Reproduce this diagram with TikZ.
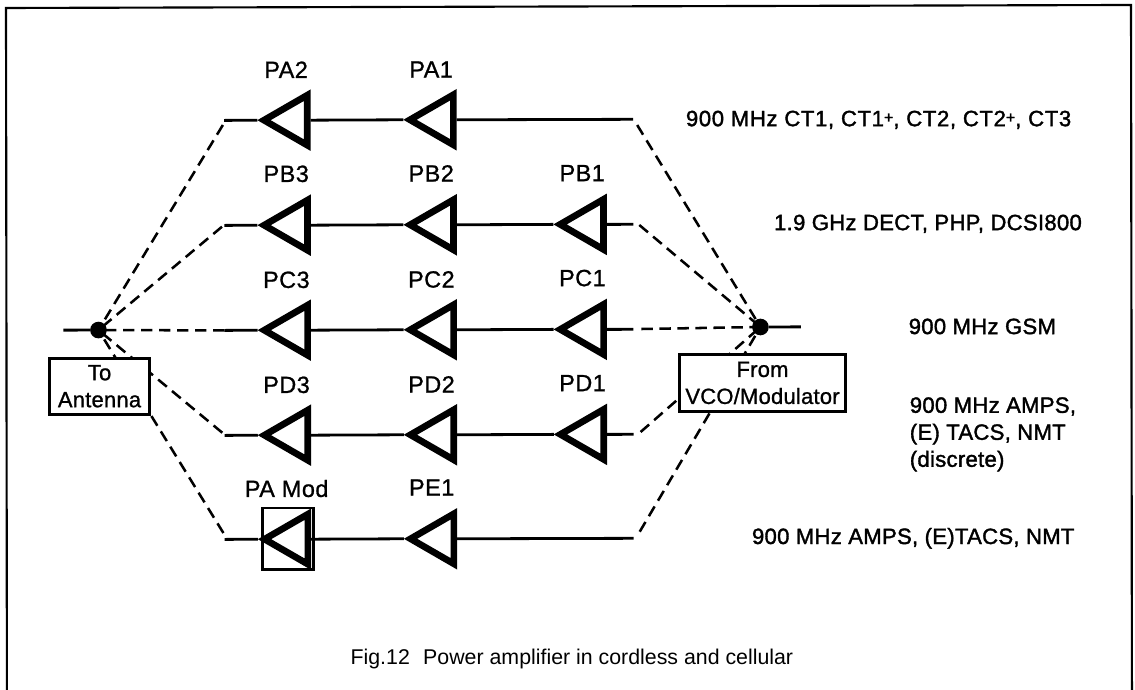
\documentclass[tikz,border=0pt]{standalone}
\usepackage{fontspec}
\setmainfont{Liberation Sans}
\newfontfamily\labfont[FakeBold=1.0,LetterSpace=2]{Liberation Sans}
\newfontfamily\notefont[FakeBold=1.6,LetterSpace=2.8]{Liberation Sans}
\newfontfamily\notebfont[FakeBold=1.6,LetterSpace=1.2]{Liberation Sans}
\newfontfamily\boxfont[FakeBold=1.0,LetterSpace=1]{Liberation Sans}
\usetikzlibrary{shapes.geometric}
\newcommand{\pls}{\raisebox{2.5pt}{\fontsize{12pt}{12pt}\selectfont +}}
\tikzset{
  wire/.style={line width=2.1pt,black},
  dashwire/.style={line width=1.9pt,black,dash pattern=on 8.5pt off 5pt},
  amp/.style={draw,isosceles triangle,shape border rotate=180,isosceles triangle apex angle=60,
     minimum height=32.5pt,inner sep=0pt,line width=5pt,line join=miter,miter limit=10,anchor=lower side},
  dotn/.style={circle,fill=black,inner sep=0pt,minimum size=12.5pt},
  boxn/.style={draw,fill=white,line width=2.1pt,inner sep=0pt,align=center,
     font=\boxfont\fontsize{16.5pt}{20.25pt}\selectfont},
  lab/.style={anchor=base,inner sep=0pt,font=\labfont\fontsize{17.6pt}{20pt}\selectfont},
  note/.style={anchor=base west,inner sep=0pt,font=\notefont\fontsize{16.6pt}{20.25pt}\selectfont},
  noteb/.style={anchor=base west,inner sep=0pt,font=\notebfont\fontsize{16.6pt}{20.25pt}\selectfont},
  captext/.style={anchor=base,inner sep=0pt,font=\fontsize{16pt}{20pt}\selectfont},
}
\begin{document}
\begin{tikzpicture}[x={(0.75pt,0.002pt)},y={(0.001pt,-0.75pt)}]
\path[use as bounding box] (0pt,0pt) rectangle (851.25pt,-516.75pt);
% frame
\coordinate (f1) at (6,705);\coordinate (f2) at (6,8);\coordinate (f3) at (1131,8);\coordinate (f4) at (1131,705);
\begin{scope}
\clip (0pt,0pt) rectangle (851.25pt,-516.75pt);
\draw[line width=1.6pt] (f1) -- (f2) -- (f3) -- (f4);
\end{scope}
% junctions
\node[dotn] (dl) at (98,330.3) {};
\node[dotn] (dr) at (760,329) {};
\coordinate (sl) at (63,330.3);\coordinate (sr) at (800.5,329);
\draw[wire] (sl) -- (dl);\draw[wire] (dr) -- (sr);
% line ends
\foreach \n/\y in {A/121,B/226,C/331,D/436,E/540}{
  \coordinate (L\n) at (224,\y);\coordinate (R\n) at (633,\y);
}
\coordinate (dLA) at (222.7,125.6);\coordinate (dLB) at (221.7,227.3);\coordinate (dLC) at (224,331);
\coordinate (dLD) at (221.7,433.3);\coordinate (dLE) at (222.7,533.6);
\coordinate (dRA) at (637,126.7);\coordinate (dRB) at (639,226.7);\coordinate (dRC) at (641,330.7);
\coordinate (dRD) at (640,433.7);\coordinate (dRE) at (639,533.4);
\foreach \n in {A,B,C,D,E}{
  \draw[dashwire] (dL\n) -- (dl.center);
  \draw[dashwire] (dR\n) -- (dr.center);
}
% boxes
\node[boxn,minimum width=75pt,minimum height=42pt] (toant) at (99,386.5) {To\\Antenna};
\node[boxn,minimum width=124.5pt,minimum height=42.5pt] (fromvco) at (762,385) {From\\VCO/Modulator};
\node[draw,line width=2pt,minimum width=38.5pt,minimum height=46pt,inner sep=0pt] (modbox) at (287.3,539.5) {};
% amplifiers
\node[amp] (pa2) at (310.5,121) {};
\node[amp] (pa1) at (456.5,121) {};
\node[amp] (pb3) at (310.5,226) {};
\node[amp] (pb2) at (456.5,226) {};
\node[amp] (pb1) at (606.5,226) {};
\node[amp] (pc3) at (310.5,331) {};
\node[amp] (pc2) at (456.5,331) {};
\node[amp] (pc1) at (606.5,331) {};
\node[amp] (pd3) at (310.5,436) {};
\node[amp] (pd2) at (456.5,436) {};
\node[amp] (pd1) at (606.5,436) {};
\node[amp] (pam) at (310.5,540) {};
\node[amp] (pe1) at (456.5,540) {};
% wires
\draw[wire] (LA) -- (pa2.apex) (pa2.lower side) -- (pa1.apex) (pa1.lower side) -- (RA);
\draw[wire] (LB) -- (pb3.apex) (pb3.lower side) -- (pb2.apex) (pb2.lower side) -- (pb1.apex) (pb1.lower side) -- (RB);
\draw[wire] (LC) -- (pc3.apex) (pc3.lower side) -- (pc2.apex) (pc2.lower side) -- (pc1.apex) (pc1.lower side) -- (RC);
\draw[wire] (LD) -- (pd3.apex) (pd3.lower side) -- (pd2.apex) (pd2.lower side) -- (pd1.apex) (pd1.lower side) -- (RD);
\draw[wire] (LE) -- (pam.apex) (pam.lower side) -- (pe1.apex) (pe1.lower side) -- (RE);
% amplifier labels
\node[lab] (tpa2) at (286,78.7) {PA2};
\node[lab] (tpa1) at (431,78.7) {PA1};
\node[lab] (tpb3) at (286,182.7) {PB3};
\node[lab] (tpb2) at (431,182.7) {PB2};
\node[lab] (tpb1) at (582,182.7) {PB1};
\node[lab] (tpc3) at (286,288.7) {PC3};
\node[lab] (tpc2) at (431,288.7) {PC2};
\node[lab] (tpc1) at (582,287.7) {PC1};
\node[lab] (tpd3) at (286,393.7) {PD3};
\node[lab] (tpd2) at (431,393.7) {PD2};
\node[lab] (tpd1) at (582,392.7) {PD1};
\node[lab] (tpam) at (286,497.7) {PA Mod};
\node[lab] (tpe1) at (431,496.7) {PE1};
% notes
\node[note] (n1) at (685.5,128) {900 MHz CT1, CT1\pls, CT2, CT2\pls, CT3};
\node[noteb] (n2) at (773.5,232.2) {1.9 GHz DECT, PHP, DCSI800};
\node[noteb] (n3) at (908,336.5) {900 MHz GSM};
\node[noteb,align=left,anchor=north west] (n4) at (909,399.5) {900 MHz AMPS,\\(E) TACS, NMT\\(discrete)};
\node[noteb] (n5) at (751,546) {900 MHz AMPS, (E)TACS, NMT};
\node[captext] (caption) at (571,666) {Fig.12\hspace{0.35em} Power amplifier in cordless and cellular};
\end{tikzpicture}
\end{document}
